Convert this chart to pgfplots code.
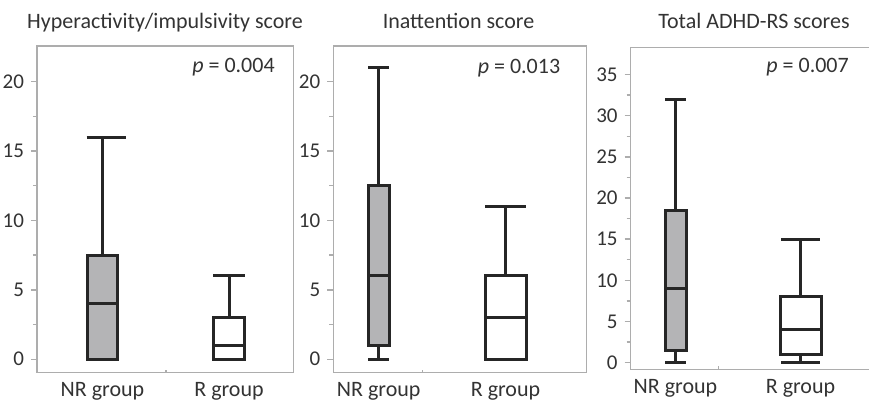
\documentclass[border=0pt]{standalone}
\usepackage{fontspec}
\setmainfont{Carlito}
\usepackage{pgfplots}
\pgfplotsset{compat=1.18}
\definecolor{axgray}{HTML}{ADADAD}
\definecolor{txtgray}{HTML}{333333}
\definecolor{boxline}{HTML}{262626}
\definecolor{boxfill}{HTML}{B4B4B6}
\pgfplotsset{
  panel/.style={
    scale only axis, anchor=south west, clip=false,
    axis line style={draw=axgray, line width=0.7pt},
    tick style={draw=axgray, line width=0.7pt},
    ytick pos=left, xtick pos=bottom,
    tick align=outside,
    major tick length=3pt, minor tick length=2pt,
    minor y tick num=1,
    /pgf/number format/assume math mode=true,
    yticklabel style={font=\fontsize{10.5}{12}\selectfont, text=txtgray},
    xticklabel style={font=\fontsize{11}{13}\selectfont, text=txtgray, yshift=1.5pt},
    xtick style={draw=none},
    xticklabels={NR group, R group},
    extra x tick labels={},
    extra x tick style={xtick style={draw=axgray}, tick align=inside, major tick length=1.5pt},
  },
  bxline/.style={draw=boxline, line width=1.5pt, mark=none},
}
\newcommand{\pfont}{\fontsize{11}{13}\selectfont\color{txtgray}}
\begin{document}
\begin{tikzpicture}
% Panel 1: Hyperactivity/impulsivity
\begin{axis}[panel, at={(18.5pt,14.15pt)}, width=128.15pt, height=163.35pt,
  xmin=37, xmax=293.3, ymin=-0.97, ymax=22.57,
  ytick={0,5,10,15,20}, xtick={102.5,229}, extra x ticks={166}]
% NR group: min 0, Q1 0, median 4, Q3 7.5, max 16
\addplot[bxline] coordinates {(102.5,7.5) (102.5,16)};
\addplot[bxline] coordinates {(86.5,16) (126,16)};
\addplot[bxline, fill=boxfill] coordinates {(87.65,0) (117.35,0) (117.35,7.5) (87.65,7.5)} --cycle;
\addplot[bxline] coordinates {(87.65,4) (117.35,4)};
% R group: min 0, Q1 0, median 1, Q3 3, max 6
\addplot[bxline] coordinates {(229,3) (229,6)};
\addplot[bxline] coordinates {(213.15,6) (244.85,6)};
\addplot[bxline, fill=white] coordinates {(213.15,0) (244.85,0) (244.85,3) (213.15,3)} --cycle;
\addplot[bxline] coordinates {(213.15,1) (244.85,1)};
\node[anchor=base east, inner sep=0pt, font=\pfont] at (rel axis cs:0.929,0.918) {\textit{p} = 0.004};
\end{axis}
% Panel 2: Inattention
\begin{axis}[panel, at={(166.65pt,14.15pt)}, width=126.7pt, height=163.35pt,
  xmin=333.3, xmax=586.7, ymin=-0.97, ymax=22.57,
  ytick={0,5,10,15,20}, xtick={378.7,505.5}, extra x ticks={422.3}]
% NR group: min 0, Q1 1, median 6, Q3 12.5, max 21
\addplot[bxline] coordinates {(378.7,12.5) (378.7,21)};
\addplot[bxline] coordinates {(368.35,21) (389.05,21)};
\addplot[bxline] coordinates {(378.7,0) (378.7,1)};
\addplot[bxline] coordinates {(368.35,0) (389.05,0)};
\addplot[bxline, fill=boxfill] coordinates {(368.35,1) (389.05,1) (389.05,12.5) (368.35,12.5)} --cycle;
\addplot[bxline] coordinates {(368.35,6) (389.05,6)};
% R group: min 0, Q1 0, median 3, Q3 6, max 11
\addplot[bxline] coordinates {(505.5,6) (505.5,11)};
\addplot[bxline] coordinates {(485,11) (526,11)};
\addplot[bxline, fill=white] coordinates {(485,0) (526,0) (526,6) (485,6)} --cycle;
\addplot[bxline] coordinates {(485,3) (526,3)};
\node[anchor=base east, inner sep=0pt, font=\pfont] at (rel axis cs:0.897,0.916) {\textit{p} = 0.013};
\end{axis}
% Panel 3: Total ADHD-RS
\begin{axis}[panel, at={(315.35pt,15.85pt)}, width=126.15pt, height=161pt,
  xmin=630.7, xmax=883, ymin=-0.8, ymax=38.3,
  ytick={0,5,10,15,20,25,30,35}, xtick={675.5,800.5}, extra x ticks={718.3}]
% NR group: min 0, Q1 1.5, median 9, Q3 18.5, max 32
\addplot[bxline] coordinates {(675.5,18.5) (675.5,32)};
\addplot[bxline] coordinates {(665,32) (686,32)};
\addplot[bxline] coordinates {(675.5,0) (675.5,1.5)};
\addplot[bxline] coordinates {(665,0) (686,0)};
\addplot[bxline, fill=boxfill] coordinates {(665,1.5) (686,1.5) (686,18.5) (665,18.5)} --cycle;
\addplot[bxline] coordinates {(665,9) (686,9)};
% R group: min 0, Q1 1, median 4, Q3 8, max 15
\addplot[bxline] coordinates {(800.5,8) (800.5,15)};
\addplot[bxline] coordinates {(781,15) (820,15)};
\addplot[bxline] coordinates {(800.5,0) (800.5,1)};
\addplot[bxline] coordinates {(781,0) (820,0)};
\addplot[bxline, fill=white] coordinates {(780,1) (821,1) (821,8) (780,8)} --cycle;
\addplot[bxline] coordinates {(780,4) (821,4)};
\node[anchor=base east, inner sep=0pt, font=\pfont] at (rel axis cs:0.866,0.921) {\textit{p} = 0.007};
\end{axis}
\node[anchor=base, inner sep=0pt, font=\pfont] at (82.5pt,186.35pt) {Hyperactivity/impulsivity score};
\node[anchor=base, inner sep=0pt, font=\pfont] at (229.25pt,186.35pt) {Inattention score};
\node[anchor=base, inner sep=0pt, font=\pfont] at (377pt,186.35pt) {Total ADHD-RS scores};
\pgfresetboundingbox
\useasboundingbox (0,0) rectangle (434.5pt,200.5pt);
\end{tikzpicture}
\end{document}
